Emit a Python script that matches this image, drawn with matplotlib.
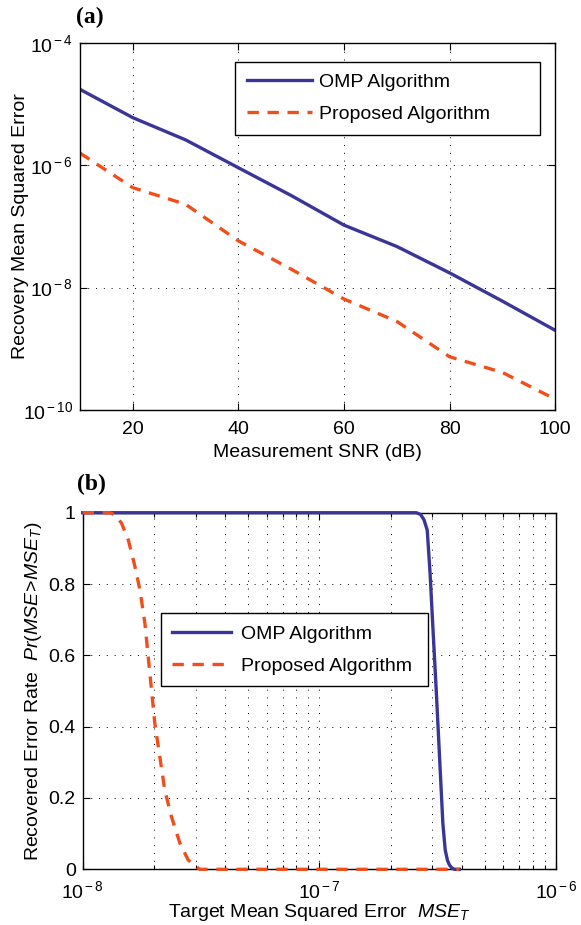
import numpy as np
import matplotlib
matplotlib.use('Agg')
import matplotlib.pyplot as plt
from matplotlib.ticker import LogLocator, NullFormatter, NullLocator

plt.rcParams['font.family'] = 'Liberation Sans'
plt.rcParams['mathtext.fontset'] = 'custom'
plt.rcParams['mathtext.rm'] = 'Liberation Sans'
plt.rcParams['mathtext.it'] = 'Liberation Sans:italic'
plt.rcParams['mathtext.bf'] = 'Liberation Sans:bold'

# panel (a): recovery MSE vs measurement SNR
snr_db = [10, 20, 30, 40, 50, 60, 70, 80, 90, 100]
omp_mse = [1.74e-5, 6.0e-6, 2.6e-6, 9.1e-7, 3.2e-7, 1.05e-7, 4.7e-8, 1.74e-8, 6.0e-9, 2.0e-9]
prop_mse = [1.58e-6, 4.3e-7, 2.3e-7, 5.8e-8, 2.0e-8, 6.5e-9, 2.8e-9, 7.4e-10, 4.1e-10, 1.5e-10]

# panel (b): Pr(MSE > MSE_T) vs target MSE
omp_target = [1.0e-8, 2.57e-7, 2.68e-7, 2.77e-7, 2.858e-7, 2.938e-7, 3.013e-7, 3.119e-7,
              3.221e-7, 3.327e-7, 3.404e-7, 3.48e-7, 3.548e-7, 3.63e-7, 3.724e-7, 3.91e-7]
omp_rate = [1.0, 1.0, 0.995, 0.980, 0.951, 0.830, 0.690, 0.503, 0.316, 0.129, 0.054,
            0.025, 0.012, 0.004, 0.0, 0.0]
prop_target = [1.0e-8, 1.303e-8, 1.38e-8, 1.461e-8, 1.560e-8, 1.663e-8, 1.746e-8, 1.832e-8,
               1.892e-8, 1.954e-8, 2.018e-8, 2.118e-8, 2.223e-8, 2.371e-8, 2.576e-8,
               2.793e-8, 3.027e-8, 3.126e-8, 3.91e-7]
prop_rate = [1.0, 1.0, 0.993, 0.970, 0.923, 0.849, 0.783, 0.690, 0.596, 0.503, 0.409,
             0.316, 0.222, 0.148, 0.073, 0.026, 0.007, 0.0, 0.0]

a_xticks = [20, 40, 60, 80, 100]
a_yticks = [1e-10, 1e-8, 1e-6, 1e-4]
a_ylabels = [r'$10^{\,{-}\,10}$', r'$10^{\,{-}\,8}$', r'$10^{\,{-}\,6}$', r'$10^{\,{-}\,4}$']
b_xticks = [1e-8, 1e-7, 1e-6]
b_xlabels = [r'$10^{\,{-}\,8}$', r'$10^{\,{-}\,7}$', r'$10^{\,{-}\,6}$']
b_yticks = [0, 0.2, 0.4, 0.6, 0.8, 1.0]
b_ylabels = ['0', '0.2', '0.4', '0.6', '0.8', '1']

names = ['OMP Algorithm', 'Proposed Algorithm']
blue = '#3b3598'
orange = '#f04f1c'
dash = (0, (3.4, 2.6))
grid_style = dict(color='black', linestyle=(0, (1, 7)), linewidth=0.7)
fs = 14

fig = plt.figure(figsize=(5.81, 9.25), dpi=100)

def style_axes(ax):
    for s in ax.spines.values():
        s.set_linewidth(1.0)
    ax.tick_params(which='both', direction='in', top=True, right=True,
                   labelsize=fs, width=0.8)
    ax.tick_params(which='major', length=5)
    ax.tick_params(which='minor', length=3)

def make_legend(ax, box, hlen, hpad):
    leg = ax.legend(loc='upper left', bbox_to_anchor=box, mode='expand',
                    borderaxespad=0, fontsize=fs, handlelength=hlen, handletextpad=hpad,
                    borderpad=0.6, labelspacing=0.75, fancybox=False, framealpha=1)
    leg.get_frame().set_edgecolor('black')
    leg.get_frame().set_linewidth(1.0)
    return leg

#
# panel (a)
#
ax1 = fig.add_axes([0.1377, 0.5568, 0.818, 0.3968])
ax1.plot(snr_db, omp_mse, color=blue, lw=2.4, label=names[0])
ax1.plot(snr_db, prop_mse, color=orange, lw=2.4, linestyle=dash, label=names[1])
ax1.set_yscale('log')
ax1.set_xlim(10, 100)
ax1.set_ylim(1e-10, 1e-4)
ax1.set_xticks(a_xticks)
ax1.set_yticks(a_yticks)
ax1.set_yticklabels(a_ylabels)
ax1.yaxis.set_minor_locator(NullLocator())
ax1.grid(True, which='major', **grid_style)
style_axes(ax1)
ax1.tick_params(axis='x', pad=8)
ax1.tick_params(axis='y', pad=5)
ax1.set_xlabel('Measurement SNR (dB)', fontsize=fs, labelpad=4)
ax1.set_ylabel('Recovery Mean Squared Error', fontsize=fs)
ax1.yaxis.set_label_coords(-0.107, 0.5)
make_legend(ax1, (0.326, 0.949, 0.642, 0), 3.35, 0.36)
fig.text(0.131, 0.981, '(a)', fontsize=17, fontweight='bold', family='Liberation Serif',
         ha='left', va='center')

#
# panel (b)
#
ax2 = fig.add_axes([0.1423, 0.0602, 0.8146, 0.3855])
ax2.plot(omp_target, omp_rate, color=blue, lw=2.4, label=names[0], clip_on=False, zorder=3)
ax2.plot(prop_target, prop_rate, color=orange, lw=2.4, linestyle=dash, label=names[1],
         clip_on=False, zorder=4)
ax2.set_xscale('log')
ax2.set_xlim(1e-8, 1e-6)
ax2.set_ylim(0, 1)
ax2.set_xticks(b_xticks)
ax2.set_xticklabels(b_xlabels)
ax2.xaxis.set_minor_locator(LogLocator(base=10, subs=np.arange(2, 10)))
ax2.xaxis.set_minor_formatter(NullFormatter())
ax2.set_yticks(b_yticks)
ax2.set_yticklabels(b_ylabels)
ax2.grid(True, which='both', **grid_style)
style_axes(ax2)
ax2.tick_params(axis='x', pad=8)
ax2.tick_params(axis='y', pad=5)
ax2.set_xlabel(r'Target Mean Squared Error  $\mathit{MSE_T}$', fontsize=fs, labelpad=0)
ax2.set_ylabel(r'Recovered Error Rate  $\mathit{Pr(MSE\!>\!MSE_T)}$', fontsize=fs)
ax2.yaxis.set_label_coords(-0.082, 0.5)
make_legend(ax2, (0.165, 0.718, 0.565, 0), 3.0, 0.55)
fig.text(0.132, 0.476, '(b)', fontsize=17, fontweight='bold', family='Liberation Serif',
         ha='left', va='center')

fig.savefig('out.png', dpi=100)
